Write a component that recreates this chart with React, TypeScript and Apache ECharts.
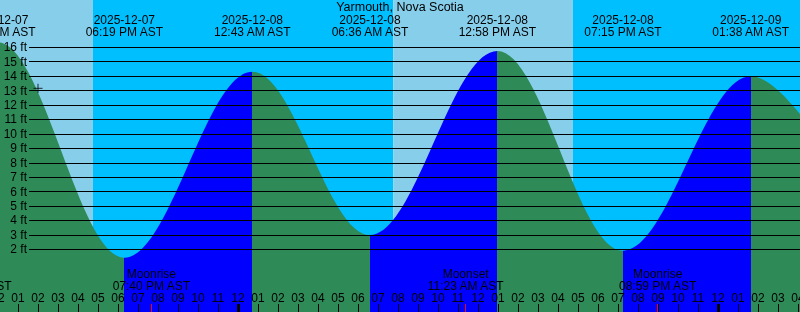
import React, { useEffect, useRef } from "react";
import * as echarts from "echarts";

// ---------- data ----------
const STATION = "Yarmouth, Nova Scotia";
const TZ = "AST";
const REF_MIDNIGHT = "2025-12-08 00:00";

// tide extrema (times local AST), levels in feet
const TIDE_TIMES = [
  "2025-12-07 05:52",
  "2025-12-07 11:59",
  "2025-12-07 18:19",
  "2025-12-08 00:43",
  "2025-12-08 06:36",
  "2025-12-08 12:58",
  "2025-12-08 19:15",
  "2025-12-09 01:38",
  "2025-12-09 07:48",
];
const TIDE_LEVELS_FT = [1.6, 16.35, 1.42, 14.31, 2.99, 15.75, 1.91, 14.0, 3.1];
const TIDE_TYPES = ["L", "H", "L", "H", "L", "H", "L", "H", "L"];

const MOON_TIMES = ["2025-12-07 10:46", "2025-12-07 19:40", "2025-12-08 11:23", "2025-12-08 20:59"];
const MOON_EVENTS = ["Moonset", "Moonrise", "Moonset", "Moonrise"];

const SUN_TIMES = ["2025-12-07 16:45", "2025-12-08 07:46", "2025-12-08 16:45"];
const SUN_EVENTS = ["Sunset", "Sunrise", "Sunset"];

const MIDNIGHTS = ["2025-12-08 00:00", "2025-12-09 00:00"];

const NOW_TIME = "2025-12-07 14:00";
const NOW_LEVEL_FT = 13.16;

const FT_MIN = 2;
const FT_MAX = 16;

// ---------- layout / style ----------
const W = 800;
const H = 312;
const OVER = 40; // chart canvas overhangs the window on both sides
const CW = W + 2 * OVER;
const PX_PER_HOUR = 20;
const MIDNIGHT_X = 238;
const ZERO_Y = 278.2;
const PX_PER_FT = 14.43;
const FT_LINE_LEFT = 29;
const FONT = "Liberation Sans";
const FS = 12;
const FS_TITLE = 12.5;

const C_DAY = "#87CEEB";
const C_NIGHT = "#00BFFF";
const C_RISE = "#0000FF";
const C_FALL = "#2E8B57";

const pad2 = (n: number) => (n < 10 ? "0" + n : "" + n);
function parse(s: string) {
  const [d, t] = s.split(" ");
  const [Y, M, D] = d.split("-").map(Number);
  const [h, m] = t.split(":").map(Number);
  return { Y, M, D, h, m, ms: Date.UTC(Y, M - 1, D, h, m) };
}
const REF_MS = parse(REF_MIDNIGHT).ms;
const toHours = (s: string) => (parse(s).ms - REF_MS) / 3600000;
function fmtTime(s: string) {
  const p = parse(s);
  const hh = p.h % 12 === 0 ? 12 : p.h % 12;
  return `${pad2(hh)}:${pad2(p.m)} ${p.h < 12 ? "AM" : "PM"} ${TZ}`;
}
const fmtDate = (s: string) => s.split(" ")[0];

export default function App() {
  const ref = useRef<HTMLDivElement>(null);
  useEffect(() => {
    if (!ref.current) return;
    const chart = echarts.init(ref.current, undefined, { renderer: "svg" });

    const xMin = (-OVER - MIDNIGHT_X) / PX_PER_HOUR;
    const xMax = (W + OVER - MIDNIGHT_X) / PX_PER_HOUR;
    const yMin = (ZERO_Y - H) / PX_PER_FT;
    const yMax = ZERO_Y / PX_PER_FT;

    const tideHours = TIDE_TIMES.map(toHours);
    const tideData = tideHours.map((h, i) => [h, TIDE_LEVELS_FT[i]]);
    const moonHours = MOON_TIMES.map(toHours);
    const sunHours = SUN_TIMES.map(toHours);
    const midHours = MIDNIGHTS.map(toHours);

    const hourTicks: number[] = [];
    for (let h = Math.ceil(xMin); h <= Math.floor(xMax); h++) hourTicks.push(h);

    // visual pieces: rising (after low) blue, falling (after high) green
    const pieces: any[] = [];
    pieces.push({ lt: tideHours[0], color: TIDE_TYPES[0] === "L" ? C_FALL : C_RISE });
    tideHours.forEach((h, i) => {
      const c = TIDE_TYPES[i] === "L" ? C_RISE : C_FALL;
      if (i < tideHours.length - 1) pieces.push({ gte: h, lt: tideHours[i + 1], color: c });
      else pieces.push({ gte: h, color: c });
    });

    // day / night background
    const bounds = [xMin, ...sunHours, xMax];
    const bg: any[] = [];
    for (let i = 0; i < bounds.length - 1; i++) {
      const isDay = i === 0 ? SUN_EVENTS[0] === "Sunset" : SUN_EVENTS[i - 1] === "Sunrise";
      bg.push([
        { xAxis: bounds[i], itemStyle: { color: isDay ? C_DAY : C_NIGHT, opacity: 1 } },
        { xAxis: bounds[i + 1] },
      ]);
    }

    const findIdx = (arr: number[], v: number) => {
      let best = 0;
      arr.forEach((a, i) => {
        if (Math.abs(a - v) < Math.abs(arr[best] - v)) best = i;
      });
      return best;
    };

    const txt = { color: "#000", fontFamily: FONT, fontSize: FS };
    const fullGrid = { left: 0, right: 0, top: 0, bottom: 0, containLabel: false, outerBoundsMode: "none" };
    const noLine = { show: false, onZero: false };

    const option: any = {
      animation: false,
      title: {
        text: STATION,
        left: "center",
        top: 0,
        padding: 0,
        textStyle: { ...txt, fontSize: FS_TITLE, fontWeight: "normal", lineHeight: 13 },
      },
      grid: [
        { ...fullGrid },
        { ...fullGrid },
        { ...fullGrid },
        {
          left: OVER + FT_LINE_LEFT,
          right: 0,
          top: ZERO_Y - FT_MAX * PX_PER_FT,
          bottom: H - (ZERO_Y - FT_MIN * PX_PER_FT),
          containLabel: false,
          outerBoundsMode: "none",
        },
      ],
      xAxis: [
        {
          gridIndex: 0, type: "value", min: xMin, max: xMax, position: "bottom", z: 10,
          axisLine: noLine, splitLine: { show: false },
          axisTick: { show: true, inside: true, length: 8, customValues: hourTicks, lineStyle: { color: "#000", width: 1 } },
          axisLabel: {
            show: true, inside: true, margin: 8, customValues: hourTicks, ...txt, lineHeight: 12,
            formatter: (v: number) => {
              const h = ((Math.round(v) % 12) + 12) % 12;
              return pad2(h === 0 ? 12 : h);
            },
          },
        },
        {
          gridIndex: 1, type: "value", min: xMin, max: xMax, position: "bottom", z: 10,
          axisLine: noLine, splitLine: { show: false },
          axisTick: { show: true, inside: true, length: 8, customValues: midHours, lineStyle: { color: "#000", width: 3 } },
          axisLabel: { show: false },
        },
        {
          gridIndex: 1, type: "value", min: xMin, max: xMax, position: "top", z: 10,
          axisLine: noLine, splitLine: { show: false }, axisTick: { show: false },
          axisLabel: {
            show: true, inside: true, margin: 13.5, customValues: tideHours, ...txt, lineHeight: 12,
            formatter: (v: number) => {
              const i = findIdx(tideHours, v);
              return `${fmtDate(TIDE_TIMES[i])}\n${fmtTime(TIDE_TIMES[i])}`;
            },
          },
        },
        {
          gridIndex: 2, type: "value", min: xMin, max: xMax, position: "bottom", z: 10,
          axisLine: noLine, splitLine: { show: false },
          axisTick: { show: true, inside: true, length: 8, customValues: moonHours, lineStyle: { color: "#ff0000", width: 1 } },
          axisLabel: {
            show: true, inside: true, margin: 20.3, customValues: moonHours, ...txt, lineHeight: 12,
            formatter: (v: number) => {
              const i = findIdx(moonHours, v);
              return `${MOON_EVENTS[i]}\n${fmtTime(MOON_TIMES[i])}`;
            },
          },
        },
        { gridIndex: 3, type: "value", min: 0, max: 1, show: false, axisLine: noLine },
      ],
      yAxis: [
        { gridIndex: 0, type: "value", min: yMin, max: yMax, show: false, splitLine: { show: false }, axisLine: noLine },
        { gridIndex: 1, type: "value", min: 0, max: 1, show: false, axisLine: noLine },
        { gridIndex: 2, type: "value", min: 0, max: 1, show: false, axisLine: noLine },
        {
          gridIndex: 3, type: "value", min: FT_MIN, max: FT_MAX, interval: 1, z: 10,
          axisLine: noLine, axisTick: { show: false },
          axisLabel: { margin: 2, formatter: "{value} ft", ...txt },
          splitLine: { show: true, lineStyle: { color: "#000", width: 1 } },
        },
      ],
      visualMap: {
        show: false,
        type: "piecewise",
        seriesIndex: 1,
        dimension: 0,
        pieces,
      },
      series: [
        {
          type: "line",
          xAxisIndex: 0,
          yAxisIndex: 0,
          z: 1,
          silent: true,
          symbol: "none",
          lineStyle: { width: 0, opacity: 0 },
          data: [[xMin, yMin]],
          markArea: { silent: true, label: { show: false }, data: bg },
        },
        {
          type: "line",
          xAxisIndex: 0,
          yAxisIndex: 0,
          z: 2,
          silent: true,
          symbol: "none",
          smooth: 0.36,
          smoothMonotone: "x",
          lineStyle: { width: 0, opacity: 0 },
          areaStyle: { opacity: 1, origin: "start" },
          data: tideData,
        },
        {
          type: "scatter",
          xAxisIndex: 0,
          yAxisIndex: 0,
          z: 12,
          silent: true,
          symbol: "path://M4,0L4,8M0,4L8,4",
          symbolSize: 9,
          itemStyle: { color: "none", borderColor: "#000", borderWidth: 1 },
          data: [[toHours(NOW_TIME), NOW_LEVEL_FT]],
        },
      ],
    };
    chart.setOption(option);
    return () => chart.dispose();
  }, []);
  return (
    <div
      ref={ref}
      style={{ position: "fixed", left: -OVER, top: 0, width: CW, height: H }}
    />
  );
}
